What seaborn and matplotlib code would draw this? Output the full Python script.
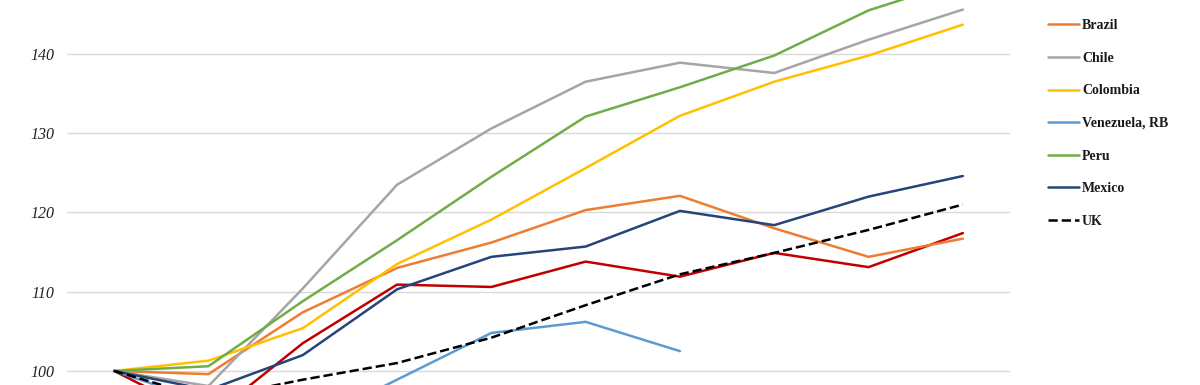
import numpy as np
import pandas as pd
import matplotlib
matplotlib.use("Agg")
import matplotlib.pyplot as plt
import seaborn as sns

nan = np.nan
periods = list(range(10))
argentina = [100, 94.0, 103.5, 110.9, 110.6, 113.8, 111.9, 114.9, 113.1, 117.4]
brazil = [100, 99.6, 107.4, 113.0, 116.2, 120.3, 122.1, 118.0, 114.4, 116.7]
chile = [100, 98.1, 110.4, 123.5, 130.6, 136.5, 138.9, 137.6, 141.8, 145.6]
colombia = [100, 101.3, 105.4, 113.5, 119.1, 125.6, 132.2, 136.5, 139.8, 143.7]
venezuela = [100, 96.0, 93.0, 98.9, 104.8, 106.2, 102.5, nan, nan, nan]
peru = [100, 100.6, 108.8, 116.5, 124.5, 132.1, 135.8, 139.8, 145.5, 149.3]
mexico = [100, 97.6, 102.0, 110.3, 114.4, 115.7, 120.2, 118.4, 122.0, 124.6]
uk = [100, 96.5, 98.9, 101.0, 104.2, 108.3, 112.2, 114.9, 117.8, 121.0]

series_names = ["Argentina", "Brazil", "Chile", "Colombia", "Venezuela, RB", "Peru", "Mexico", "UK"]
series_values = [argentina, brazil, chile, colombia, venezuela, peru, mexico, uk]
series_colors = ["#C00000", "#ED7D31", "#A5A5A5", "#FFC000", "#5B9BD5", "#70AD47", "#264478", "#000000"]
series_styles = ["-", "-", "-", "-", "-", "-", "-", "--"]
y_ticks = [100, 110, 120, 130, 140]

sns.set_style("white")

fig = plt.figure(figsize=(12, 3.85), dpi=100)
ax = fig.add_axes([67 / 1200, 0, (1010 - 67) / 1200, 1])

for name, vals, col, ls in zip(series_names, series_values, series_colors, series_styles):
    df = pd.DataFrame({"period": periods, "value": vals})
    sns.lineplot(data=df, x="period", y="value", color=col, linestyle=ls,
                 linewidth=1.8, ax=ax, label=name, zorder=3)

ax.set_xlim(-0.5, 9.5)
ax.set_ylim(98.23, 146.81)
ax.set_yticks(y_ticks)
ax.set_yticklabels([str(t) for t in y_ticks], fontfamily="Liberation Serif",
                   fontstyle="italic", fontsize=11.5, color="#222222")
ax.tick_params(axis="y", length=0, pad=9)
ax.set_xticks([])
ax.set_xlabel("")
ax.set_ylabel("")
for s in ax.spines.values():
    s.set_visible(False)
ax.grid(axis="y", color="#D9D9D9", linewidth=1.0, zorder=0)
ax.set_axisbelow(True)

handles, labels = ax.get_legend_handles_labels()
if ax.legend_:
    ax.legend_.remove()
# the Argentina entry sits above the visible area in the reference; show the visible ones
handles, labels = handles[1:], labels[1:]
leg = fig.legend(handles, labels, loc="center left", bbox_to_anchor=(1048 / 1200, 1 - 123.5 / 385),
                 bbox_transform=fig.transFigure, frameon=False, borderpad=0, borderaxespad=0,
                 handlelength=2.2, handletextpad=0.25, labelspacing=1.41,
                 prop={"family": "Liberation Serif", "weight": "bold", "size": 10})
for t in leg.get_texts():
    t.set_color("#1a1a1a")

fig.savefig("out.png", dpi=100)
